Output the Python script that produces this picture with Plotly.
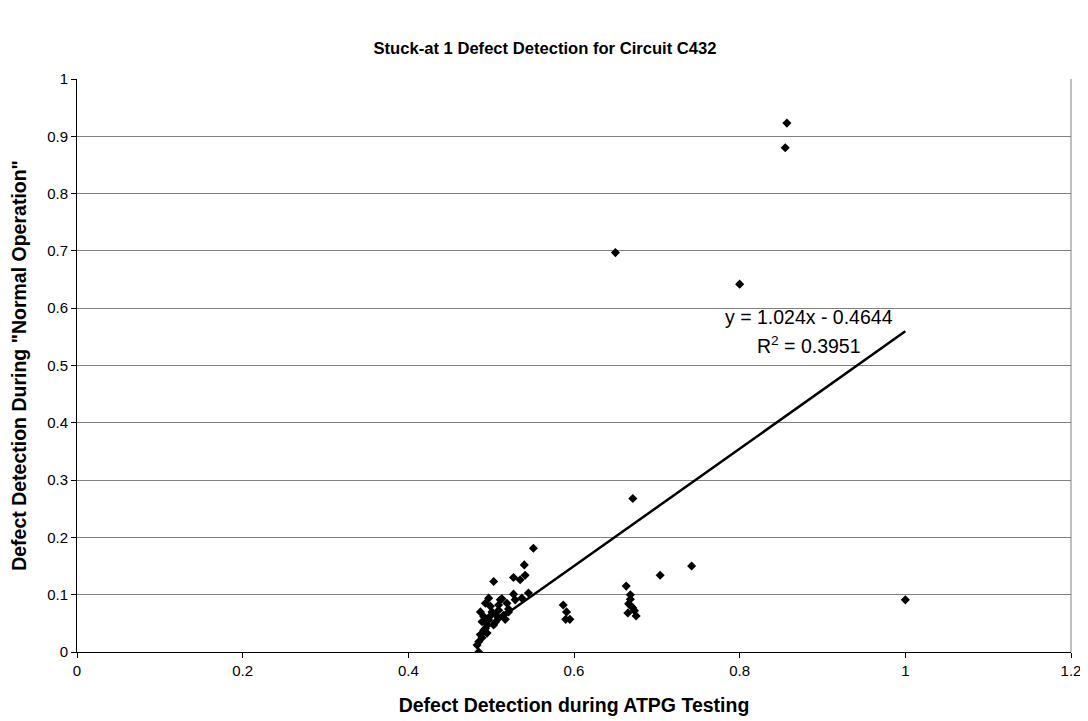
import plotly.graph_objects as go

# Data
atpg = [
    0.857, 0.855, 0.800, 0.650, 0.671, 1.000, 0.742, 0.704, 0.663, 0.551, 0.540,
    0.668, 0.668, 0.666, 0.671, 0.665, 0.675, 0.673, 0.669,
    0.587, 0.591, 0.595, 0.590,
    0.503, 0.527, 0.535, 0.541, 0.527, 0.545, 0.537, 0.529,
    0.497, 0.493, 0.511, 0.519, 0.509, 0.513, 0.521, 0.521, 0.515, 0.487,
    0.501, 0.509, 0.509, 0.497, 0.489, 0.503, 0.493, 0.495, 0.487, 0.485,
    0.483, 0.485, 0.499, 0.505, 0.491, 0.499, 0.495, 0.489, 0.491, 0.505, 0.517,
]
normal_op = [
    0.923, 0.880, 0.642, 0.697, 0.268, 0.091, 0.150, 0.134, 0.115, 0.181, 0.152,
    0.100, 0.092, 0.084, 0.077, 0.068, 0.063, 0.072, 0.080,
    0.082, 0.070, 0.057, 0.057,
    0.123, 0.130, 0.126, 0.134, 0.101, 0.103, 0.094, 0.091,
    0.094, 0.085, 0.091, 0.085, 0.082, 0.093, 0.075, 0.070, 0.064, 0.070,
    0.070, 0.073, 0.059, 0.056, 0.053, 0.047, 0.041, 0.033, 0.030, 0.018,
    0.012, 0.000, 0.063, 0.052, 0.062, 0.080, 0.048, 0.025, 0.038, 0.066, 0.057,
]

# Trendline coefficients as printed on the chart
slope = 1.024
intercept = -0.4644
r_squared = 0.3951

x_ticks = [0, 0.2, 0.4, 0.6, 0.8, 1, 1.2]
y_ticks = [0, 0.1, 0.2, 0.3, 0.4, 0.5, 0.6, 0.7, 0.8, 0.9, 1]

FONT = "Liberation Sans, Arial, sans-serif"

x_min, x_max = min(atpg), max(atpg)
trend_x = [x_min, x_max]
trend_y = [slope * v + intercept for v in trend_x]

fig = go.Figure()
fig.add_trace(go.Scatter(
    x=trend_x, y=trend_y, mode="lines",
    line=dict(color="black", width=2.5),
    hoverinfo="skip", showlegend=False,
))
fig.add_trace(go.Scatter(
    x=atpg, y=normal_op, mode="markers",
    marker=dict(symbol="diamond", size=7, color="black", line=dict(width=0)),
    showlegend=False,
))

fig.add_annotation(
    x=0.884, y=0.585, xref="x", yref="y",
    text=f"y = {slope}x - {abs(intercept)}",
    showarrow=False, font=dict(family=FONT, size=19.5, color="black"),
)
fig.add_annotation(
    x=0.884, y=0.536, xref="x", yref="y",
    text=f"R<sup>2</sup> = {r_squared}",
    showarrow=False, font=dict(family=FONT, size=19.5, color="black"),
)

# right border of plot area
fig.add_shape(type="line", xref="paper", yref="paper", x0=1, x1=1, y0=0, y1=1,
              line=dict(color="#808080", width=1))

# page body has an 8px margin, so the figure is sized/placed to compensate
W, H = 1080, 713
fig.update_layout(
    width=W, height=H,
    paper_bgcolor="white", plot_bgcolor="white",
    margin=dict(l=69, r=17, t=71, b=69, autoexpand=False),
    font=dict(family=FONT, size=15, color="black"),
    title=dict(
        text="<b>Stuck-at 1 Defect Detection for Circuit C432</b>",
        x=(545 - 8) / W, xanchor="center", y=1 - 40 / H, yanchor="middle",
        font=dict(family=FONT, size=16.6, color="black"),
    ),
    xaxis=dict(
        range=[0, 1.2], tickvals=x_ticks, ticktext=[str(t) for t in x_ticks],
        showgrid=False, zeroline=False, automargin=False,
        showline=True, linecolor="black", linewidth=1,
        ticks="outside", ticklen=5, tickcolor="black",
        title=dict(text="<b>Defect Detection during ATPG Testing</b>",
                   font=dict(family=FONT, size=19.5, color="black"), standoff=20),
    ),
    yaxis=dict(
        range=[0, 1], tickvals=y_ticks, ticktext=[str(t) for t in y_ticks],
        showgrid=True, gridcolor="#808080", gridwidth=1, zeroline=False,
        automargin=False,
        showline=True, linecolor="black", linewidth=1,
        ticks="outside", ticklen=5, tickcolor="black",
        title=dict(text="<b>Defect Detection During \"Normal Operation\"</b>",
                   font=dict(family=FONT, size=19.5, color="black"), standoff=19),
    ),
)

fig.write_html("out.html")
